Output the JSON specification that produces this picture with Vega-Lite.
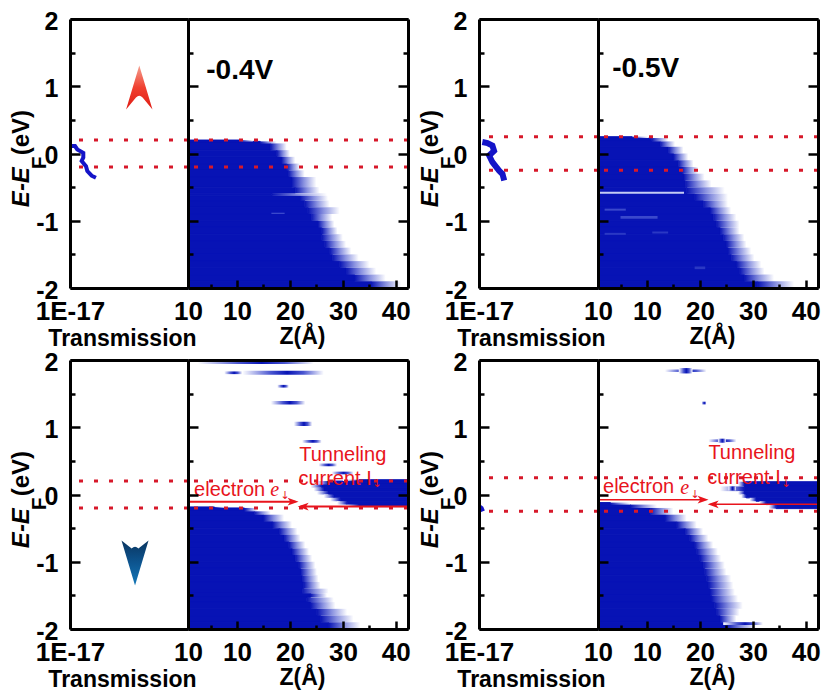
{"$schema":"https://vega.github.io/schema/vega-lite/v6.json","background":"white","padding":{"left":10,"top":9,"right":0,"bottom":0},"bounds":"flush","align":"each","columns":5,"spacing":{"row":72,"column":0},
"config":{"view":{"stroke":null},"font":"Liberation Sans","axis":{"labelFont":"Liberation Sans","labelFontWeight":"bold","labelFontSize":25,"labelColor":"black","grid":false,"tickColor":"black","tickWidth":2.5,"domainColor":"black","domainWidth":3,"labelFlush":false,"labelOverlap":false,"titleFont":"Liberation Sans","titleFontWeight":"bold","titleColor":"black"},"axisX":{"labelFontSize":26},"text":{"font":"Liberation Sans"}},
"datasets":{
"a":[{"z0":0.75,"e0":0.2,"e1":0.18,"s":10.6,"f":13},{"z0":0.75,"e0":0.18,"e1":0.15,"s":14.4,"f":17.5},{"z0":0.75,"e0":0.15,"e1":0.05,"s":16.3,"f":19.4},{"z0":0.75,"e0":0.05,"e1":-0.05,"s":17.5,"f":20},{"z0":0.75,"e0":-0.05,"e1":-0.15,"s":18.4,"f":21},{"z0":0.75,"e0":-0.15,"e1":-0.25,"s":19.4,"f":21.9},{"z0":0.75,"e0":-0.25,"e1":-0.35,"s":19.7,"f":22.8},{"z0":0.75,"e0":-0.35,"e1":-0.5,"s":20.3,"f":25},{"z0":0.75,"e0":-0.5,"e1":-0.59,"s":21,"f":25.6},{"z0":0.75,"e0":-0.59,"e1":-0.63,"s":16.6,"f":27},{"z0":0.75,"e0":-0.63,"e1":-0.7,"s":21.9,"f":27.2},{"z0":0.75,"e0":-0.7,"e1":-0.8,"s":22.8,"f":27.5},{"z0":0.75,"e0":-0.8,"e1":-0.9,"s":23.4,"f":29.4},{"z0":0.75,"e0":-0.9,"e1":-1,"s":24,"f":28},{"z0":0.75,"e0":-1,"e1":-1.1,"s":25.3,"f":28.4},{"z0":0.75,"e0":-1.1,"e1":-1.2,"s":26,"f":29},{"z0":0.75,"e0":-1.2,"e1":-1.3,"s":26,"f":30},{"z0":0.75,"e0":-1.3,"e1":-1.4,"s":26.6,"f":30.6},{"z0":0.75,"e0":-1.4,"e1":-1.5,"s":27.5,"f":31.6},{"z0":0.75,"e0":-1.5,"e1":-1.6,"s":28,"f":33},{"z0":0.75,"e0":-1.6,"e1":-1.7,"s":29.4,"f":35},{"z0":0.75,"e0":-1.7,"e1":-1.8,"s":30.6,"f":36.3},{"z0":0.75,"e0":-1.8,"e1":-1.9,"s":32.2,"f":38.1},{"z0":0.75,"e0":-1.9,"e1":-2,"s":35.3,"f":41}],
"b":[{"z0":0.75,"e0":0.25,"e1":0.23,"s":7.2,"f":10.3},{"z0":0.75,"e0":0.23,"e1":0.18,"s":10.9,"f":14},{"z0":0.75,"e0":0.18,"e1":0.1,"s":12.5,"f":15.3},{"z0":0.75,"e0":0.1,"e1":0,"s":14,"f":16.9},{"z0":0.75,"e0":0,"e1":-0.1,"s":15,"f":17.8},{"z0":0.75,"e0":-0.1,"e1":-0.2,"s":15.9,"f":18.8},{"z0":0.75,"e0":-0.2,"e1":-0.3,"s":16.6,"f":19.7},{"z0":0.75,"e0":-0.3,"e1":-0.4,"s":16.9,"f":20.9},{"z0":0.75,"e0":-0.4,"e1":-0.5,"s":17.2,"f":22.2},{"z0":0.75,"e0":-0.5,"e1":-0.6,"s":17.5,"f":24.7},{"z0":0.75,"e0":-0.6,"e1":-0.7,"s":19,"f":25.3},{"z0":0.75,"e0":-0.7,"e1":-0.8,"s":20.6,"f":25.3},{"z0":0.75,"e0":-0.8,"e1":-0.9,"s":21.9,"f":25.9},{"z0":0.75,"e0":-0.9,"e1":-1,"s":22.5,"f":26.9},{"z0":0.75,"e0":-1,"e1":-1.1,"s":23.1,"f":27.5},{"z0":0.75,"e0":-1.1,"e1":-1.2,"s":23.8,"f":27.5},{"z0":0.75,"e0":-1.2,"e1":-1.3,"s":24.4,"f":28.4},{"z0":0.75,"e0":-1.3,"e1":-1.4,"s":25,"f":28.8},{"z0":0.75,"e0":-1.4,"e1":-1.5,"s":25.3,"f":29.7},{"z0":0.75,"e0":-1.5,"e1":-1.6,"s":25.9,"f":30.3},{"z0":0.75,"e0":-1.6,"e1":-1.7,"s":26.9,"f":31.6},{"z0":0.75,"e0":-1.7,"e1":-1.8,"s":27.5,"f":32.2},{"z0":0.75,"e0":-1.8,"e1":-1.9,"s":28.4,"f":34},{"z0":0.75,"e0":-1.9,"e1":-2,"s":30.9,"f":37.8}],
"bmarks":[{"e0":-0.57,"e1":-0.6,"z0":0.75,"z1":17,"c":"#c4ccf4"},{"e0":-0.82,"e1":-0.85,"z0":2,"z1":6,"c":"#3a48cc"},{"e0":-0.93,"e1":-0.97,"z0":5,"z1":12,"c":"#3a48cc"},{"e0":-1.18,"e1":-1.21,"z0":2,"z1":6,"c":"#2a38c4"},{"e0":-1.16,"e1":-1.19,"z0":11,"z1":14,"c":"#2a38c4"},{"e0":-1.68,"e1":-1.72,"z0":19,"z1":21,"c":"#2a38c4"}],
"amarks":[{"e0":-0.88,"e1":-0.9,"z0":16.5,"z1":19,"c":"#3a48cc"}],
"c":[{"z0":0.75,"e0":-0.185,"e1":-0.2,"s":5.75,"f":8.25},{"z0":0.75,"e0":-0.2,"e1":-0.25,"s":11.4,"f":13.9},{"z0":0.75,"e0":-0.25,"e1":-0.3,"s":13.25,"f":16.4},{"z0":0.75,"e0":-0.3,"e1":-0.4,"s":15,"f":18.9},{"z0":0.75,"e0":-0.4,"e1":-0.5,"s":16.7,"f":20.4},{"z0":0.75,"e0":-0.5,"e1":-0.6,"s":18,"f":21.4},{"z0":0.75,"e0":-0.6,"e1":-0.7,"s":18.9,"f":22},{"z0":0.75,"e0":-0.7,"e1":-0.8,"s":19.8,"f":22.9},{"z0":0.75,"e0":-0.8,"e1":-0.9,"s":20.4,"f":23.6},{"z0":0.75,"e0":-0.9,"e1":-1,"s":21,"f":24.2},{"z0":0.75,"e0":-1,"e1":-1.1,"s":21.7,"f":24.8},{"z0":0.75,"e0":-1.1,"e1":-1.2,"s":22,"f":25.1},{"z0":0.75,"e0":-1.2,"e1":-1.3,"s":22.3,"f":25.4},{"z0":0.75,"e0":-1.3,"e1":-1.4,"s":22.6,"f":25.8},{"z0":0.75,"e0":-1.4,"e1":-1.47,"s":22.3,"f":27.3},{"z0":0.75,"e0":-1.47,"e1":-1.53,"s":23.9,"f":27},{"z0":0.75,"e0":-1.53,"e1":-1.6,"s":23.2,"f":28.3},{"z0":0.75,"e0":-1.6,"e1":-1.7,"s":23.9,"f":28.6},{"z0":0.75,"e0":-1.7,"e1":-1.8,"s":25.1,"f":30.8},{"z0":0.75,"e0":-1.8,"e1":-1.9,"s":25.8,"f":32},{"z0":0.75,"e0":-1.9,"e1":-2,"s":27.3,"f":33.3}],
"cpatch":[{"z1":42.3,"e0":0.22,"e1":0.2,"f":30,"s":33},{"z1":42.3,"e0":0.2,"e1":0.15,"f":25.1,"s":27.3},{"z1":42.3,"e0":0.15,"e1":0.1,"f":23.9,"s":26},{"z1":42.3,"e0":0.1,"e1":0.05,"f":24.5,"s":26.4},{"z1":42.3,"e0":0.05,"e1":0,"f":25.1,"s":27.3},{"z1":42.3,"e0":0,"e1":-0.05,"f":26.4,"s":28.3},{"z1":42.3,"e0":-0.05,"e1":-0.1,"f":27.6,"s":29.5},{"z1":42.3,"e0":-0.1,"e1":-0.15,"f":28.9,"s":30.8},{"z1":42.3,"e0":-0.15,"e1":-0.18,"f":30.8,"s":33}],
"cblobs":[{"e0":2,"e1":1.94,"z0":2.6,"z1":24.5},{"e0":1.84,"e1":1.78,"z0":11,"z1":26.4},{"e0":1.83,"e1":1.79,"z0":7.6,"z1":11},{"e0":1.63,"e1":1.59,"z0":17.6,"z1":19.8},{"e0":1.39,"e1":1.34,"z0":16.4,"z1":22.9},{"e0":1.08,"e1":1.02,"z0":20.75,"z1":24.2},{"e0":0.81,"e1":0.77,"z0":22.3,"z1":26},{"e0":0.46,"e1":0.42,"z0":25.4,"z1":28.9},{"e0":0.34,"e1":0.3,"z0":27.9,"z1":32}],
"d":[{"z0":0.75,"e0":-0.12,"e1":-0.15,"s":3.1,"f":6.9},{"z0":0.75,"e0":-0.15,"e1":-0.2,"s":6.9,"f":11.9},{"z0":0.75,"e0":-0.2,"e1":-0.3,"s":10.6,"f":15},{"z0":0.75,"e0":-0.3,"e1":-0.4,"s":13.4,"f":17.5},{"z0":0.75,"e0":-0.4,"e1":-0.5,"s":15.6,"f":19.4},{"z0":0.75,"e0":-0.5,"e1":-0.6,"s":17.2,"f":20.6},{"z0":0.75,"e0":-0.6,"e1":-0.7,"s":18.1,"f":21.6},{"z0":0.75,"e0":-0.7,"e1":-0.8,"s":19,"f":22.5},{"z0":0.75,"e0":-0.8,"e1":-0.9,"s":19.4,"f":23.4},{"z0":0.75,"e0":-0.9,"e1":-1,"s":20,"f":24},{"z0":0.75,"e0":-1,"e1":-1.1,"s":20.6,"f":24.7},{"z0":0.75,"e0":-1.1,"e1":-1.2,"s":20.9,"f":25},{"z0":0.75,"e0":-1.2,"e1":-1.3,"s":21.3,"f":25.9},{"z0":0.75,"e0":-1.3,"e1":-1.4,"s":21.6,"f":26.3},{"z0":0.75,"e0":-1.4,"e1":-1.5,"s":21.9,"f":26.6},{"z0":0.75,"e0":-1.5,"e1":-1.6,"s":22.2,"f":27.2},{"z0":0.75,"e0":-1.6,"e1":-1.7,"s":22.8,"f":28.1},{"z0":0.75,"e0":-1.7,"e1":-1.8,"s":23.1,"f":27.5},{"z0":0.75,"e0":-1.8,"e1":-1.9,"s":23.8,"f":26.9},{"z0":0.75,"e0":-1.9,"e1":-2,"s":25,"f":30.6}],
"dpatch":[{"z1":42.3,"e0":0.19,"e1":0.12,"f":27.2,"s":28.4},{"z1":42.3,"e0":0.12,"e1":0.05,"f":23.8,"s":28.4},{"z1":42.3,"e0":0.05,"e1":0,"f":27.2,"s":28.4},{"z1":42.3,"e0":0,"e1":-0.05,"f":27.8,"s":28.75},{"z1":42.3,"e0":-0.05,"e1":-0.1,"f":29.4,"s":30.6},{"z1":42.3,"e0":-0.1,"e1":-0.15,"f":31.25,"s":32.5},{"z1":42.3,"e0":-0.15,"e1":-0.21,"f":33,"s":34.4}],
"dblobs":[{"e0":1.86,"e1":1.82,"z0":13.4,"z1":21.25},{"e0":1.88,"e1":1.8,"z0":16,"z1":18.6},{"e0":1.38,"e1":1.34,"z0":20.3,"z1":21.25},{"e0":0.82,"e1":0.78,"z0":21.6,"z1":26.9},{"e0":0.83,"e1":0.77,"z0":23.4,"z1":24.9},{"e0":0.12,"e1":0.06,"z0":25.4,"z1":26.8},{"e0":-1.9,"e1":-1.94,"z0":24.4,"z1":31.9}],
"alin":[{"i":1,"t":1.8e-17,"e":0.11},{"i":2,"t":5.8e-17,"e":0.11},{"i":3,"t":1.3e-16,"e":0.06},{"i":4,"t":1.07e-15,"e":0.01},{"i":5,"t":1.07e-15,"e":-0.06},{"i":6,"t":6e-16,"e":-0.11},{"i":7,"t":2.75e-15,"e":-0.19},{"i":8,"t":4.4e-15,"e":-0.26},{"i":9,"t":2e-14,"e":-0.33},{"i":10,"t":9e-14,"e":-0.36}],
"blin":[{"i":1,"t":3.2e-17,"e":0.17},{"i":2,"t":1.9e-16,"e":0.156},{"i":3,"t":1.07e-15,"e":0.117},{"i":4,"t":1.9e-15,"e":0.04},{"i":5,"t":3.4e-16,"e":-0.03},{"i":6,"t":1.07e-15,"e":-0.13},{"i":7,"t":1.1e-14,"e":-0.255},{"i":8,"t":3.6e-14,"e":-0.305},{"i":9,"t":6.5e-14,"e":-0.4}],
"dlin":[{"i":1,"t":1.3e-17,"e":-0.18},{"i":2,"t":2.5e-17,"e":-0.2},{"i":3,"t":4e-17,"e":-0.25}],
"axe":[{"z":10,"t":1,"e":0}],
"yl1":[{"label":"E-E","t":5e-25,"e":-0.5}],"yl2":[{"label":"F","t":2.5e-22,"e":-0.14}],"yl3":[{"label":"(eV)","t":5e-25,"e":0.31}]
},
"concat":[
{"width":118,"height":269,"resolve":{"axis":{"x":"independent","y":"independent"}},"layer":[
{"data":{"values":[{"e":0.2},{"e":-0.2}]},"mark":{"type":"rule","color":"#d7182a","strokeWidth":3,"strokeDash":[4,11]},"encoding":{"y":{"field":"e","type":"quantitative","axis":null}}},
{"data":{"name":"alin"},"mark":{"type":"line","color":"#1414c8","strokeWidth":4},"encoding":{"x":{"field":"t","type":"quantitative","scale":{"type":"log","domain":[1e-17,10],"nice":false},"axis":null},"y":{"field":"e","type":"quantitative","axis":null},"order":{"field":"i"}}},
{"data":{"values":[{"t":3.7e-7,"e":0.98}]},"mark":{"type":"point","filled":true,"opacity":1,"size":1936,"shape":"M 0 -1 L 0.6 1 L 0.15 0.45 Q 0 0.3 -0.15 0.45 L -0.6 1 Z","color":{"gradient":"linear","x1":0,"y1":0,"x2":0,"y2":1,"stops":[{"offset":0,"color":"#f5a090"},{"offset":0.5,"color":"#f04030"},{"offset":1,"color":"#e01c14"}]}},"encoding":{"x":{"field":"t","type":"quantitative","axis":null},"y":{"field":"e","type":"quantitative","axis":null}}},
{"data":{"name":"yl1"},"mark":{"type":"text","angle":270,"fontSize":24,"fontWeight":"bold","fontStyle":"italic"},"encoding":{"x":{"field":"t","type":"quantitative","axis":null},"y":{"field":"e","type":"quantitative","axis":null},"text":{"field":"label"}}},
{"data":{"name":"yl2"},"mark":{"type":"text","angle":270,"fontSize":21,"fontWeight":"bold"},"encoding":{"x":{"field":"t","type":"quantitative","axis":null},"y":{"field":"e","type":"quantitative","axis":null},"text":{"field":"label"}}},
{"data":{"name":"yl3"},"mark":{"type":"text","angle":270,"fontSize":24,"fontWeight":"bold"},"encoding":{"x":{"field":"t","type":"quantitative","axis":null},"y":{"field":"e","type":"quantitative","axis":null},"text":{"field":"label"}}},
{"data":{"name":"axe"},"mark":{"type":"point","opacity":0},"encoding":{"x":{"field":"t","type":"quantitative","axis":{"orient":"bottom","values":[1e-17,10],"labelExpr":"datum.value<1?'1E-17':'10'","ticks":false,"labelPadding":10,"zindex":1,"title":"Transmission","titleFontSize":23,"titleX":52,"titleY":39}},"y":{"field":"e","type":"quantitative","scale":{"domain":[-2,2],"nice":false},"axis":{"orient":"left","values":[-2,-1,0,1,2],"labelExpr":"''+datum.value","tickSize":-10,"labelPadding":22,"labelOffset":2,"zindex":1,"title":null}}}},
{"data":{"name":"axe"},"mark":{"type":"point","opacity":0},"encoding":{"x":{"field":"t","type":"quantitative","axis":{"orient":"top","ticks":false,"labels":false,"title":null,"zindex":1}},"y":{"field":"e","type":"quantitative","axis":{"orient":"left","values":[-1.5,-0.5,0.5,1.5],"tickSize":-5,"labels":false,"title":null,"zindex":1,"domain":false}}}}
]},
{"width":220,"height":269,"resolve":{"axis":{"x":"independent","y":"independent"}},"layer":[
{"data":{"name":"a"},"mark":{"type":"rect","color":"#0713b5","stroke":"#0713b5","strokeWidth":1},"encoding":{"x":{"field":"z0","type":"quantitative","axis":null},"x2":{"field":"s"},"y":{"field":"e0","type":"quantitative","axis":null},"y2":{"field":"e1"}}},
{"data":{"name":"a"},"mark":{"type":"rect","color":{"gradient":"linear","stops":[{"offset":0,"color":"#0713b5"},{"offset":0.5,"color":"#8a92e0"},{"offset":1,"color":"#ffffff"}]}},"encoding":{"x":{"field":"s","type":"quantitative","axis":null},"x2":{"field":"f"},"y":{"field":"e0","type":"quantitative","axis":null},"y2":{"field":"e1"}}},
{"data":{"name":"amarks"},"mark":{"type":"rect"},"encoding":{"x":{"field":"z0","type":"quantitative","axis":null},"x2":{"field":"z1"},"y":{"field":"e0","type":"quantitative","axis":null},"y2":{"field":"e1"},"color":{"field":"c","type":"nominal","scale":null}}},
{"data":{"values":[{"e":0.2},{"e":-0.2}]},"mark":{"type":"rule","color":"#d7182a","strokeWidth":3,"strokeDash":[4,11]},"encoding":{"y":{"field":"e","type":"quantitative","axis":null}}},
{"data":{"values":[{"z":4.2,"e":1.23,"label":"-0.4V"}]},"mark":{"type":"text","align":"left","fontSize":28,"fontWeight":"bold","color":"black"},"encoding":{"x":{"field":"z","type":"quantitative","axis":null},"y":{"field":"e","type":"quantitative","axis":null},"text":{"field":"label"}}},
{"data":{"name":"axe"},"mark":{"type":"point","opacity":0},"encoding":{"x":{"field":"z","type":"quantitative","scale":{"domain":[0.75,42.3],"nice":false,"zero":false},"axis":{"orient":"bottom","values":[10,20,30,40],"format":"d","tickSize":-8,"labelPadding":18,"zindex":1,"title":"Z(Å)","titleFontSize":23,"titleX":114,"titleY":37}},"y":{"field":"e","type":"quantitative","scale":{"domain":[-2,2],"nice":false},"axis":{"orient":"left","values":[-2,-1,0,1,2],"tickSize":-10,"labels":false,"title":null,"zindex":1}}}},
{"data":{"name":"axe"},"mark":{"type":"point","opacity":0},"encoding":{"x":{"field":"z","type":"quantitative","axis":{"orient":"bottom","values":[5,15,25,35],"tickSize":-4,"labels":false,"title":null,"zindex":1,"domain":false}},"y":{"field":"e","type":"quantitative","axis":{"orient":"left","values":[-1.5,-0.5,0.5,1.5],"tickSize":-5,"labels":false,"title":null,"zindex":1,"domain":false}}}},
{"data":{"name":"axe"},"mark":{"type":"point","opacity":0},"encoding":{"x":{"field":"z","type":"quantitative","axis":{"orient":"top","ticks":false,"labels":false,"title":null,"zindex":1}},"y":{"field":"e","type":"quantitative","axis":{"orient":"right","values":[-2,-1,0,1,2],"tickSize":-10,"labels":false,"title":null,"zindex":1}}}},
{"data":{"name":"axe"},"mark":{"type":"point","opacity":0},"encoding":{"y":{"field":"e","type":"quantitative","axis":{"orient":"right","values":[-1.5,-0.5,0.5,1.5],"tickSize":-5,"labels":false,"title":null,"zindex":1,"domain":false}}}}
]},
{"width":71,"height":269,"data":{"name":"axe"},"mark":{"type":"point","opacity":0},"encoding":{}},
{"width":119,"height":269,"resolve":{"axis":{"x":"independent","y":"independent"}},"layer":[
{"data":{"values":[{"e":0.25},{"e":-0.25}]},"mark":{"type":"rule","color":"#d7182a","strokeWidth":3,"strokeDash":[4,11]},"encoding":{"y":{"field":"e","type":"quantitative","axis":null}}},
{"data":{"name":"blin"},"mark":{"type":"line","color":"#1414c8","strokeWidth":6},"encoding":{"x":{"field":"t","type":"quantitative","scale":{"type":"log","domain":[1e-17,10],"nice":false},"axis":null},"y":{"field":"e","type":"quantitative","axis":null},"order":{"field":"i"}}},
{"data":{"name":"yl1"},"mark":{"type":"text","angle":270,"fontSize":24,"fontWeight":"bold","fontStyle":"italic"},"encoding":{"x":{"field":"t","type":"quantitative","axis":null},"y":{"field":"e","type":"quantitative","axis":null},"text":{"field":"label"}}},
{"data":{"name":"yl2"},"mark":{"type":"text","angle":270,"fontSize":21,"fontWeight":"bold"},"encoding":{"x":{"field":"t","type":"quantitative","axis":null},"y":{"field":"e","type":"quantitative","axis":null},"text":{"field":"label"}}},
{"data":{"name":"yl3"},"mark":{"type":"text","angle":270,"fontSize":24,"fontWeight":"bold"},"encoding":{"x":{"field":"t","type":"quantitative","axis":null},"y":{"field":"e","type":"quantitative","axis":null},"text":{"field":"label"}}},
{"data":{"name":"axe"},"mark":{"type":"point","opacity":0},"encoding":{"x":{"field":"t","type":"quantitative","axis":{"orient":"bottom","values":[1e-17,10],"labelExpr":"datum.value<1?'1E-17':'10'","ticks":false,"labelPadding":10,"zindex":1,"title":"Transmission","titleFontSize":23,"titleX":52,"titleY":39}},"y":{"field":"e","type":"quantitative","scale":{"domain":[-2,2],"nice":false},"axis":{"orient":"left","values":[-2,-1,0,1,2],"labelExpr":"''+datum.value","tickSize":-10,"labelPadding":22,"labelOffset":2,"zindex":1,"title":null}}}},
{"data":{"name":"axe"},"mark":{"type":"point","opacity":0},"encoding":{"x":{"field":"t","type":"quantitative","axis":{"orient":"top","ticks":false,"labels":false,"title":null,"zindex":1}},"y":{"field":"e","type":"quantitative","axis":{"orient":"left","values":[-1.5,-0.5,0.5,1.5],"tickSize":-5,"labels":false,"title":null,"zindex":1,"domain":false}}}}
]},
{"width":220,"height":269,"resolve":{"axis":{"x":"independent","y":"independent"}},"layer":[
{"data":{"name":"b"},"mark":{"type":"rect","color":"#0713b5","stroke":"#0713b5","strokeWidth":1},"encoding":{"x":{"field":"z0","type":"quantitative","axis":null},"x2":{"field":"s"},"y":{"field":"e0","type":"quantitative","axis":null},"y2":{"field":"e1"}}},
{"data":{"name":"b"},"mark":{"type":"rect","color":{"gradient":"linear","stops":[{"offset":0,"color":"#0713b5"},{"offset":0.5,"color":"#8a92e0"},{"offset":1,"color":"#ffffff"}]}},"encoding":{"x":{"field":"s","type":"quantitative","axis":null},"x2":{"field":"f"},"y":{"field":"e0","type":"quantitative","axis":null},"y2":{"field":"e1"}}},
{"data":{"name":"bmarks"},"mark":{"type":"rect"},"encoding":{"x":{"field":"z0","type":"quantitative","axis":null},"x2":{"field":"z1"},"y":{"field":"e0","type":"quantitative","axis":null},"y2":{"field":"e1"},"color":{"field":"c","type":"nominal","scale":null}}},
{"data":{"values":[{"e":0.25},{"e":-0.25}]},"mark":{"type":"rule","color":"#d7182a","strokeWidth":3,"strokeDash":[4,11]},"encoding":{"y":{"field":"e","type":"quantitative","axis":null}}},
{"data":{"values":[{"z":3.45,"e":1.25,"label":"-0.5V"}]},"mark":{"type":"text","align":"left","fontSize":28,"fontWeight":"bold","color":"black"},"encoding":{"x":{"field":"z","type":"quantitative","axis":null},"y":{"field":"e","type":"quantitative","axis":null},"text":{"field":"label"}}},
{"data":{"name":"axe"},"mark":{"type":"point","opacity":0},"encoding":{"x":{"field":"z","type":"quantitative","scale":{"domain":[0.75,42.3],"nice":false,"zero":false},"axis":{"orient":"bottom","values":[10,20,30,40],"format":"d","tickSize":-8,"labelPadding":18,"zindex":1,"title":"Z(Å)","titleFontSize":23,"titleX":114,"titleY":37}},"y":{"field":"e","type":"quantitative","scale":{"domain":[-2,2],"nice":false},"axis":{"orient":"left","values":[-2,-1,0,1,2],"tickSize":-10,"labels":false,"title":null,"zindex":1}}}},
{"data":{"name":"axe"},"mark":{"type":"point","opacity":0},"encoding":{"x":{"field":"z","type":"quantitative","axis":{"orient":"bottom","values":[5,15,25,35],"tickSize":-4,"labels":false,"title":null,"zindex":1,"domain":false}},"y":{"field":"e","type":"quantitative","axis":{"orient":"left","values":[-1.5,-0.5,0.5,1.5],"tickSize":-5,"labels":false,"title":null,"zindex":1,"domain":false}}}},
{"data":{"name":"axe"},"mark":{"type":"point","opacity":0},"encoding":{"x":{"field":"z","type":"quantitative","axis":{"orient":"top","ticks":false,"labels":false,"title":null,"zindex":1}},"y":{"field":"e","type":"quantitative","axis":{"orient":"right","values":[-2,-1,0,1,2],"tickSize":-10,"labels":false,"title":null,"zindex":1}}}},
{"data":{"name":"axe"},"mark":{"type":"point","opacity":0},"encoding":{"y":{"field":"e","type":"quantitative","axis":{"orient":"right","values":[-1.5,-0.5,0.5,1.5],"tickSize":-5,"labels":false,"title":null,"zindex":1,"domain":false}}}}
]},
{"width":118,"height":269,"resolve":{"axis":{"x":"independent","y":"independent"}},"layer":[
{"data":{"values":[{"e":0.2},{"e":-0.2}]},"mark":{"type":"rule","color":"#d7182a","strokeWidth":3,"strokeDash":[4,11]},"encoding":{"y":{"field":"e","type":"quantitative","axis":null}}},
{"data":{"values":[{"t":8.3e-8,"e":-1.02}]},"mark":{"type":"point","filled":true,"opacity":1,"size":2025,"shape":"M 0 1 L 0.6 -1 L 0.15 -0.65 Q 0 -0.8 -0.15 -0.65 L -0.6 -1 Z","color":{"gradient":"linear","x1":0,"y1":0,"x2":0,"y2":1,"stops":[{"offset":0,"color":"#0a3560"},{"offset":0.5,"color":"#0d5590"},{"offset":1,"color":"#1478b8"}]}},"encoding":{"x":{"field":"t","type":"quantitative","scale":{"type":"log","domain":[1e-17,10],"nice":false},"axis":null},"y":{"field":"e","type":"quantitative","axis":null}}},
{"data":{"name":"yl1"},"mark":{"type":"text","angle":270,"fontSize":24,"fontWeight":"bold","fontStyle":"italic"},"encoding":{"x":{"field":"t","type":"quantitative","axis":null},"y":{"field":"e","type":"quantitative","axis":null},"text":{"field":"label"}}},
{"data":{"name":"yl2"},"mark":{"type":"text","angle":270,"fontSize":21,"fontWeight":"bold"},"encoding":{"x":{"field":"t","type":"quantitative","axis":null},"y":{"field":"e","type":"quantitative","axis":null},"text":{"field":"label"}}},
{"data":{"name":"yl3"},"mark":{"type":"text","angle":270,"fontSize":24,"fontWeight":"bold"},"encoding":{"x":{"field":"t","type":"quantitative","axis":null},"y":{"field":"e","type":"quantitative","axis":null},"text":{"field":"label"}}},
{"data":{"name":"axe"},"mark":{"type":"point","opacity":0},"encoding":{"x":{"field":"t","type":"quantitative","axis":{"orient":"bottom","values":[1e-17,10],"labelExpr":"datum.value<1?'1E-17':'10'","ticks":false,"labelPadding":10,"zindex":1,"title":"Transmission","titleFontSize":23,"titleX":52,"titleY":39}},"y":{"field":"e","type":"quantitative","scale":{"domain":[-2,2],"nice":false},"axis":{"orient":"left","values":[-2,-1,0,1,2],"labelExpr":"''+datum.value","tickSize":-10,"labelPadding":22,"labelOffset":2,"zindex":1,"title":null}}}},
{"data":{"name":"axe"},"mark":{"type":"point","opacity":0},"encoding":{"x":{"field":"t","type":"quantitative","axis":{"orient":"top","ticks":false,"labels":false,"title":null,"zindex":1}},"y":{"field":"e","type":"quantitative","axis":{"orient":"left","values":[-1.5,-0.5,0.5,1.5],"tickSize":-5,"labels":false,"title":null,"zindex":1,"domain":false}}}}
]},
{"width":220,"height":269,"resolve":{"axis":{"x":"independent","y":"independent"}},"layer":[
{"data":{"name":"c"},"mark":{"type":"rect","color":"#0713b5","stroke":"#0713b5","strokeWidth":1},"encoding":{"x":{"field":"z0","type":"quantitative","axis":null},"x2":{"field":"s"},"y":{"field":"e0","type":"quantitative","axis":null},"y2":{"field":"e1"}}},
{"data":{"name":"c"},"mark":{"type":"rect","color":{"gradient":"linear","stops":[{"offset":0,"color":"#0713b5"},{"offset":0.5,"color":"#8a92e0"},{"offset":1,"color":"#ffffff"}]}},"encoding":{"x":{"field":"s","type":"quantitative","axis":null},"x2":{"field":"f"},"y":{"field":"e0","type":"quantitative","axis":null},"y2":{"field":"e1"}}},
{"data":{"name":"cpatch"},"mark":{"type":"rect","color":"#0713b5","stroke":"#0713b5","strokeWidth":1},"encoding":{"x":{"field":"s","type":"quantitative","axis":null},"x2":{"field":"z1"},"y":{"field":"e0","type":"quantitative","axis":null},"y2":{"field":"e1"}}},
{"data":{"name":"cpatch"},"mark":{"type":"rect","color":{"gradient":"linear","stops":[{"offset":0,"color":"#ffffff"},{"offset":0.5,"color":"#8a92e0"},{"offset":1,"color":"#0713b5"}]}},"encoding":{"x":{"field":"f","type":"quantitative","axis":null},"x2":{"field":"s"},"y":{"field":"e0","type":"quantitative","axis":null},"y2":{"field":"e1"}}},
{"data":{"name":"cblobs"},"mark":{"type":"rect","color":{"gradient":"linear","stops":[{"offset":0,"color":"#ffffff"},{"offset":0.35,"color":"#4a56d0"},{"offset":0.55,"color":"#0713b5"},{"offset":0.75,"color":"#4a56d0"},{"offset":1,"color":"#ffffff"}]}},"encoding":{"x":{"field":"z0","type":"quantitative","axis":null},"x2":{"field":"z1"},"y":{"field":"e0","type":"quantitative","axis":null},"y2":{"field":"e1"}}},
{"data":{"values":[{"e":0.2},{"e":-0.2}]},"mark":{"type":"rule","color":"#d7182a","strokeWidth":3,"strokeDash":[4,11]},"encoding":{"y":{"field":"e","type":"quantitative","axis":null}}},
{"data":{"values":[{"z":0.75,"z2":21,"e":-0.107},{"z":42.3,"z2":22,"e":-0.18}]},"mark":{"type":"rule","color":"#e8141c","strokeWidth":2},"encoding":{"x":{"field":"z","type":"quantitative","axis":null},"x2":{"field":"z2"},"y":{"field":"e","type":"quantitative","axis":null}}},
{"data":{"values":[{"z":20.6,"e":-0.107}]},"mark":{"type":"point","filled":true,"opacity":1,"color":"#e8141c","size":120,"shape":"M 1 0 L -1 -0.7 L -0.5 0 L -1 0.7 Z"},"encoding":{"x":{"field":"z","type":"quantitative","axis":null},"y":{"field":"e","type":"quantitative","axis":null}}},
{"data":{"values":[{"z":22.5,"e":-0.18}]},"mark":{"type":"point","filled":true,"opacity":1,"color":"#e8141c","size":120,"shape":"M -1 0 L 1 -0.7 L 0.5 0 L 1 0.7 Z"},"encoding":{"x":{"field":"z","type":"quantitative","axis":null},"y":{"field":"e","type":"quantitative","axis":null}}},
{"data":{"values":[{"z":21.75,"e":0.59,"label":"Tunneling"},{"z":21.6,"e":0.23,"label":"current I"},{"z":1.9,"e":0.07,"label":"electron"}]},"mark":{"type":"text","align":"left","fontSize":20,"color":"#e8141c"},"encoding":{"x":{"field":"z","type":"quantitative","axis":null},"y":{"field":"e","type":"quantitative","axis":null},"text":{"field":"label"}}},
{"data":{"values":[{"z":16.3,"e":0.07,"label":"e"}]},"mark":{"type":"text","align":"left","fontSize":20,"font":"Liberation Serif","fontStyle":"italic","color":"#e8141c"},"encoding":{"x":{"field":"z","type":"quantitative","axis":null},"y":{"field":"e","type":"quantitative","axis":null},"text":{"field":"label"}}},
{"data":{"values":[{"z":18.2,"e":-0.02,"label":"↓"},{"z":35.6,"e":0.16,"label":"↓"}]},"mark":{"type":"text","align":"left","fontSize":11,"font":"DejaVu Sans","color":"#e8141c"},"encoding":{"x":{"field":"z","type":"quantitative","axis":null},"y":{"field":"e","type":"quantitative","axis":null},"text":{"field":"label"}}},
{"data":{"name":"axe"},"mark":{"type":"point","opacity":0},"encoding":{"x":{"field":"z","type":"quantitative","scale":{"domain":[0.75,42.3],"nice":false,"zero":false},"axis":{"orient":"bottom","values":[10,20,30,40],"format":"d","tickSize":-8,"labelPadding":18,"zindex":1,"title":"Z(Å)","titleFontSize":23,"titleX":114,"titleY":37}},"y":{"field":"e","type":"quantitative","scale":{"domain":[-2,2],"nice":false},"axis":{"orient":"left","values":[-2,-1,0,1,2],"tickSize":-10,"labels":false,"title":null,"zindex":1}}}},
{"data":{"name":"axe"},"mark":{"type":"point","opacity":0},"encoding":{"x":{"field":"z","type":"quantitative","axis":{"orient":"bottom","values":[5,15,25,35],"tickSize":-4,"labels":false,"title":null,"zindex":1,"domain":false}},"y":{"field":"e","type":"quantitative","axis":{"orient":"left","values":[-1.5,-0.5,0.5,1.5],"tickSize":-5,"labels":false,"title":null,"zindex":1,"domain":false}}}},
{"data":{"name":"axe"},"mark":{"type":"point","opacity":0},"encoding":{"x":{"field":"z","type":"quantitative","axis":{"orient":"top","ticks":false,"labels":false,"title":null,"zindex":1}},"y":{"field":"e","type":"quantitative","axis":{"orient":"right","values":[-2,-1,0,1,2],"tickSize":-10,"labels":false,"title":null,"zindex":1}}}},
{"data":{"name":"axe"},"mark":{"type":"point","opacity":0},"encoding":{"y":{"field":"e","type":"quantitative","axis":{"orient":"right","values":[-1.5,-0.5,0.5,1.5],"tickSize":-5,"labels":false,"title":null,"zindex":1,"domain":false}}}}
]},
{"width":71,"height":269,"data":{"name":"axe"},"mark":{"type":"point","opacity":0},"encoding":{}},
{"width":119,"height":269,"resolve":{"axis":{"x":"independent","y":"independent"}},"layer":[
{"data":{"values":[{"e":0.25},{"e":-0.25}]},"mark":{"type":"rule","color":"#d7182a","strokeWidth":3,"strokeDash":[4,11]},"encoding":{"y":{"field":"e","type":"quantitative","axis":null}}},
{"data":{"name":"dlin"},"mark":{"type":"line","color":"#1414c8","strokeWidth":4},"encoding":{"x":{"field":"t","type":"quantitative","scale":{"type":"log","domain":[1e-17,10],"nice":false},"axis":null},"y":{"field":"e","type":"quantitative","axis":null},"order":{"field":"i"}}},
{"data":{"name":"yl1"},"mark":{"type":"text","angle":270,"fontSize":24,"fontWeight":"bold","fontStyle":"italic"},"encoding":{"x":{"field":"t","type":"quantitative","axis":null},"y":{"field":"e","type":"quantitative","axis":null},"text":{"field":"label"}}},
{"data":{"name":"yl2"},"mark":{"type":"text","angle":270,"fontSize":21,"fontWeight":"bold"},"encoding":{"x":{"field":"t","type":"quantitative","axis":null},"y":{"field":"e","type":"quantitative","axis":null},"text":{"field":"label"}}},
{"data":{"name":"yl3"},"mark":{"type":"text","angle":270,"fontSize":24,"fontWeight":"bold"},"encoding":{"x":{"field":"t","type":"quantitative","axis":null},"y":{"field":"e","type":"quantitative","axis":null},"text":{"field":"label"}}},
{"data":{"name":"axe"},"mark":{"type":"point","opacity":0},"encoding":{"x":{"field":"t","type":"quantitative","axis":{"orient":"bottom","values":[1e-17,10],"labelExpr":"datum.value<1?'1E-17':'10'","ticks":false,"labelPadding":10,"zindex":1,"title":"Transmission","titleFontSize":23,"titleX":52,"titleY":39}},"y":{"field":"e","type":"quantitative","scale":{"domain":[-2,2],"nice":false},"axis":{"orient":"left","values":[-2,-1,0,1,2],"labelExpr":"''+datum.value","tickSize":-10,"labelPadding":22,"labelOffset":2,"zindex":1,"title":null}}}},
{"data":{"name":"axe"},"mark":{"type":"point","opacity":0},"encoding":{"x":{"field":"t","type":"quantitative","axis":{"orient":"top","ticks":false,"labels":false,"title":null,"zindex":1}},"y":{"field":"e","type":"quantitative","axis":{"orient":"left","values":[-1.5,-0.5,0.5,1.5],"tickSize":-5,"labels":false,"title":null,"zindex":1,"domain":false}}}}
]},
{"width":220,"height":269,"resolve":{"axis":{"x":"independent","y":"independent"}},"layer":[
{"data":{"name":"d"},"mark":{"type":"rect","color":"#0713b5","stroke":"#0713b5","strokeWidth":1},"encoding":{"x":{"field":"z0","type":"quantitative","axis":null},"x2":{"field":"s"},"y":{"field":"e0","type":"quantitative","axis":null},"y2":{"field":"e1"}}},
{"data":{"name":"d"},"mark":{"type":"rect","color":{"gradient":"linear","stops":[{"offset":0,"color":"#0713b5"},{"offset":0.5,"color":"#8a92e0"},{"offset":1,"color":"#ffffff"}]}},"encoding":{"x":{"field":"s","type":"quantitative","axis":null},"x2":{"field":"f"},"y":{"field":"e0","type":"quantitative","axis":null},"y2":{"field":"e1"}}},
{"data":{"name":"dpatch"},"mark":{"type":"rect","color":"#0713b5","stroke":"#0713b5","strokeWidth":1},"encoding":{"x":{"field":"s","type":"quantitative","axis":null},"x2":{"field":"z1"},"y":{"field":"e0","type":"quantitative","axis":null},"y2":{"field":"e1"}}},
{"data":{"name":"dpatch"},"mark":{"type":"rect","color":{"gradient":"linear","stops":[{"offset":0,"color":"#ffffff"},{"offset":0.5,"color":"#8a92e0"},{"offset":1,"color":"#0713b5"}]}},"encoding":{"x":{"field":"f","type":"quantitative","axis":null},"x2":{"field":"s"},"y":{"field":"e0","type":"quantitative","axis":null},"y2":{"field":"e1"}}},
{"data":{"name":"dblobs"},"mark":{"type":"rect","color":{"gradient":"linear","stops":[{"offset":0,"color":"#ffffff"},{"offset":0.35,"color":"#4a56d0"},{"offset":0.55,"color":"#0713b5"},{"offset":0.75,"color":"#4a56d0"},{"offset":1,"color":"#ffffff"}]}},"encoding":{"x":{"field":"z0","type":"quantitative","axis":null},"x2":{"field":"z1"},"y":{"field":"e0","type":"quantitative","axis":null},"y2":{"field":"e1"}}},
{"data":{"values":[{"e":0.25},{"e":-0.25}]},"mark":{"type":"rule","color":"#d7182a","strokeWidth":3,"strokeDash":[4,11]},"encoding":{"y":{"field":"e","type":"quantitative","axis":null}}},
{"data":{"values":[{"z":0.75,"z2":21,"e":-0.077},{"z":42.3,"z2":22,"e":-0.146}]},"mark":{"type":"rule","color":"#e8141c","strokeWidth":1.6},"encoding":{"x":{"field":"z","type":"quantitative","axis":null},"x2":{"field":"z2"},"y":{"field":"e","type":"quantitative","axis":null}}},
{"data":{"values":[{"z":20.6,"e":-0.077}]},"mark":{"type":"point","filled":true,"opacity":1,"color":"#e8141c","size":120,"shape":"M 1 0 L -1 -0.7 L -0.5 0 L -1 0.7 Z"},"encoding":{"x":{"field":"z","type":"quantitative","axis":null},"y":{"field":"e","type":"quantitative","axis":null}}},
{"data":{"values":[{"z":22.5,"e":-0.146}]},"mark":{"type":"point","filled":true,"opacity":1,"color":"#e8141c","size":120,"shape":"M -1 0 L 1 -0.7 L 0.5 0 L 1 0.7 Z"},"encoding":{"x":{"field":"z","type":"quantitative","axis":null},"y":{"field":"e","type":"quantitative","axis":null}}},
{"data":{"values":[{"z":21.6,"e":0.61,"label":"Tunneling"},{"z":21.4,"e":0.245,"label":"current I"},{"z":1.7,"e":0.107,"label":"electron"}]},"mark":{"type":"text","align":"left","fontSize":20,"color":"#e8141c"},"encoding":{"x":{"field":"z","type":"quantitative","axis":null},"y":{"field":"e","type":"quantitative","axis":null},"text":{"field":"label"}}},
{"data":{"values":[{"z":16.3,"e":0.1,"label":"e"}]},"mark":{"type":"text","align":"left","fontSize":20,"font":"Liberation Serif","fontStyle":"italic","color":"#e8141c"},"encoding":{"x":{"field":"z","type":"quantitative","axis":null},"y":{"field":"e","type":"quantitative","axis":null},"text":{"field":"label"}}},
{"data":{"values":[{"z":18.2,"e":0,"label":"↓"},{"z":35.4,"e":0.15,"label":"↓"}]},"mark":{"type":"text","align":"left","fontSize":11,"font":"DejaVu Sans","color":"#e8141c"},"encoding":{"x":{"field":"z","type":"quantitative","axis":null},"y":{"field":"e","type":"quantitative","axis":null},"text":{"field":"label"}}},
{"data":{"name":"axe"},"mark":{"type":"point","opacity":0},"encoding":{"x":{"field":"z","type":"quantitative","scale":{"domain":[0.75,42.3],"nice":false,"zero":false},"axis":{"orient":"bottom","values":[10,20,30,40],"format":"d","tickSize":-8,"labelPadding":18,"zindex":1,"title":"Z(Å)","titleFontSize":23,"titleX":114,"titleY":37}},"y":{"field":"e","type":"quantitative","scale":{"domain":[-2,2],"nice":false},"axis":{"orient":"left","values":[-2,-1,0,1,2],"tickSize":-10,"labels":false,"title":null,"zindex":1}}}},
{"data":{"name":"axe"},"mark":{"type":"point","opacity":0},"encoding":{"x":{"field":"z","type":"quantitative","axis":{"orient":"bottom","values":[5,15,25,35],"tickSize":-4,"labels":false,"title":null,"zindex":1,"domain":false}},"y":{"field":"e","type":"quantitative","axis":{"orient":"left","values":[-1.5,-0.5,0.5,1.5],"tickSize":-5,"labels":false,"title":null,"zindex":1,"domain":false}}}},
{"data":{"name":"axe"},"mark":{"type":"point","opacity":0},"encoding":{"x":{"field":"z","type":"quantitative","axis":{"orient":"top","ticks":false,"labels":false,"title":null,"zindex":1}},"y":{"field":"e","type":"quantitative","axis":{"orient":"right","values":[-2,-1,0,1,2],"tickSize":-10,"labels":false,"title":null,"zindex":1}}}},
{"data":{"name":"axe"},"mark":{"type":"point","opacity":0},"encoding":{"y":{"field":"e","type":"quantitative","axis":{"orient":"right","values":[-1.5,-0.5,0.5,1.5],"tickSize":-5,"labels":false,"title":null,"zindex":1,"domain":false}}}}
]}
]}
